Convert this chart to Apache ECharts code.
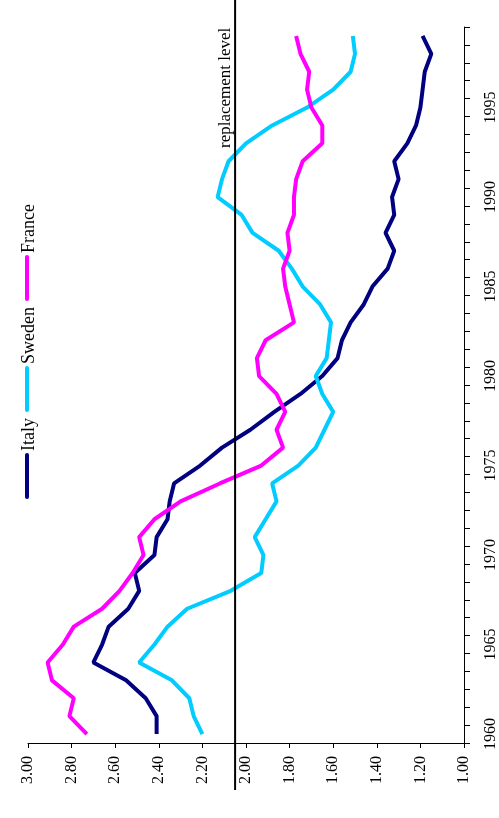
<!DOCTYPE html>
<html>
<head>
<meta charset="utf-8">
<script src="https://cdn.jsdelivr.net/npm/echarts@6/dist/echarts.min.js"></script>
<style>
html,body{margin:0;padding:0;background:#fff;}
#chart{width:499px;height:818px;}
</style>
</head>
<body>
<div id="chart"></div>
<script>
const years = ['1960','1961','1962','1963','1964','1965','1966','1967','1968','1969',
  '1970','1971','1972','1973','1974','1975','1976','1977','1978','1979',
  '1980','1981','1982','1983','1984','1985','1986','1987','1988','1989',
  '1990','1991','1992','1993','1994','1995','1996','1997','1998','1999'];

const italy = [2.41,2.41,2.46,2.55,2.70,2.66,2.63,2.54,2.49,2.51,
  2.42,2.41,2.36,2.35,2.33,2.21,2.11,1.98,1.87,1.75,
  1.65,1.58,1.56,1.52,1.46,1.42,1.35,1.32,1.36,1.32,
  1.33,1.30,1.32,1.26,1.22,1.20,1.19,1.18,1.15,1.19];

const sweden = [2.20,2.24,2.26,2.34,2.49,2.42,2.36,2.27,2.07,1.93,
  1.92,1.96,1.91,1.86,1.88,1.76,1.68,1.64,1.60,1.65,
  1.68,1.63,1.62,1.61,1.66,1.74,1.79,1.85,1.97,2.02,
  2.13,2.11,2.08,2.00,1.88,1.72,1.60,1.52,1.50,1.51];

const france = [2.73,2.81,2.79,2.89,2.91,2.84,2.79,2.66,2.58,2.52,
  2.47,2.49,2.42,2.30,2.12,1.93,1.83,1.86,1.82,1.86,
  1.94,1.95,1.91,1.78,1.80,1.82,1.83,1.80,1.81,1.78,
  1.78,1.77,1.74,1.65,1.65,1.70,1.72,1.71,1.75,1.77];

const seriesNames = ['Italy','Sweden','France'];
const seriesColors = ['#000080','#00CCFF','#FF00FF'];
const seriesValues = [italy, sweden, france];

const fertilityMin = 1.0;
const fertilityMax = 3.0;
const fertilityStep = 0.2;
const replacementLevel = 2.05;
const replacementLabel = 'replacement level';

const FONT = 'Liberation Serif';

const chart = echarts.init(document.getElementById('chart'), null, {renderer: 'canvas'});

const option = {
  animation: false,
  backgroundColor: '#ffffff',
  grid: {left: 28, right: 35, top: 27, bottom: 75, containLabel: false, outerBoundsMode: 'none'},
  xAxis: {
    type: 'value',
    min: fertilityMin,
    max: fertilityMax,
    interval: fertilityStep,
    inverse: true,
    position: 'bottom',
    splitLine: {show: false},
    axisLine: {show: true, onZero: false, lineStyle: {color: '#000', width: 1}},
    axisTick: {show: true, length: 5, lineStyle: {color: '#000', width: 1}},
    axisLabel: {
      rotate: 90, margin: 13,
      formatter: v => v.toFixed(2),
      fontFamily: FONT, fontSize: 16, color: '#000'
    }
  },
  yAxis: {
    type: 'category',
    data: years,
    position: 'right',
    boundaryGap: true,
    splitLine: {show: false},
    axisLine: {show: true, onZero: false, lineStyle: {color: '#000', width: 1}},
    axisTick: {show: true, interval: 0, length: 6, lineStyle: {color: '#000', width: 1}},
    axisLabel: {
      interval: 4, rotate: 90, margin: 19,
      fontFamily: FONT, fontSize: 16, color: '#000'
    }
  },
  series: seriesNames.map((name, k) => ({
    name: name,
    type: 'line',
    symbol: 'none',
    data: years.map((y, i) => [seriesValues[k][i], y]),
    lineStyle: {color: seriesColors[k], width: 4},
    itemStyle: {color: seriesColors[k]},
    z: 2 + k
  }))
};

chart.setOption(option);

// graphic overlays: replacement line + rotated legend
const rx = chart.convertToPixel({xAxisIndex: 0}, replacementLevel);

const ctx = document.createElement('canvas').getContext('2d');
ctx.font = '18px "' + FONT + '"';

const graphics = [
  {type: 'line', z: 100, shape: {x1: rx, y1: 0, x2: rx, y2: 790},
    style: {stroke: '#000', lineWidth: 2}},
  {type: 'text', z: 100, x: rx - 10, y: 148, rotation: Math.PI / 2,
    style: {text: replacementLabel, fontFamily: FONT, fontSize: 17, fill: '#000',
      align: 'left', verticalAlign: 'middle'}}
];

let cursor = 497;
const legendX = 27;
const lineLen = 42;
seriesNames.forEach((name, k) => {
  graphics.push({type: 'line', z: 100,
    shape: {x1: legendX, y1: cursor, x2: legendX, y2: cursor - lineLen},
    style: {stroke: seriesColors[k], lineWidth: 4, lineCap: 'round'}});
  const textStart = cursor - lineLen - 4;
  graphics.push({type: 'text', z: 100, x: legendX + 2, y: textStart, rotation: Math.PI / 2,
    style: {text: name, fontFamily: FONT, fontSize: 18, fill: '#000',
      align: 'left', verticalAlign: 'middle'}});
  const w = ctx.measureText(name).width;
  cursor = textStart - w - 8;
});

chart.setOption({graphic: graphics});
</script>
</body>
</html>
